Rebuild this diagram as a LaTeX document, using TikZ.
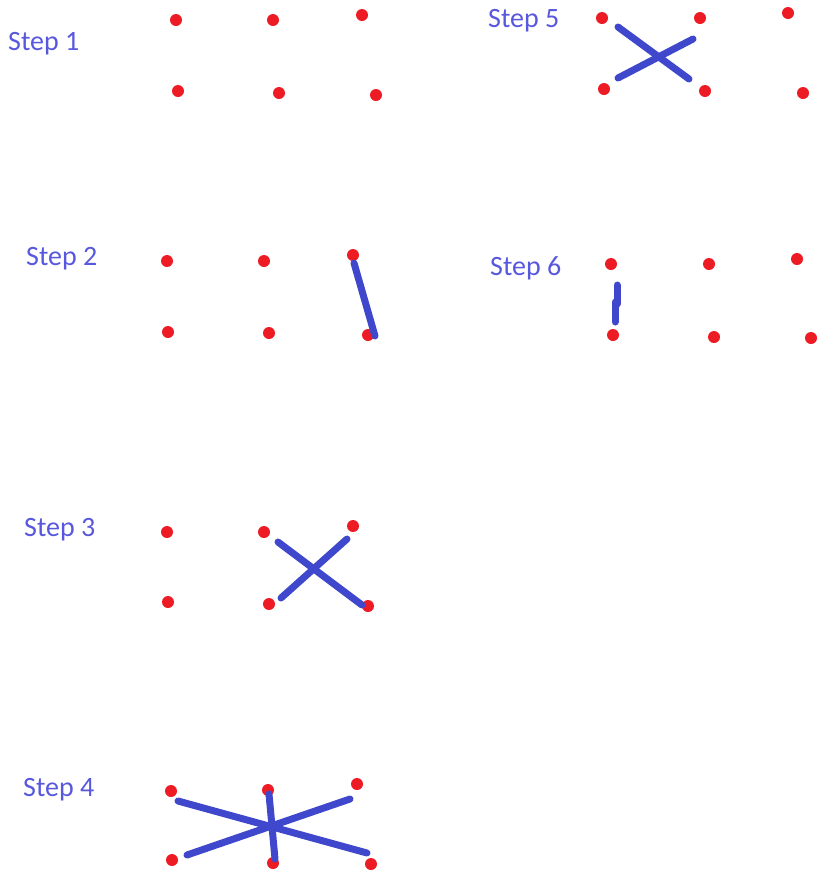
\documentclass[tikz,border=0pt]{standalone}
\usepackage{fontspec}
\setmainfont{Carlito}
\definecolor{dotred}{RGB}{237,28,36}
\definecolor{penblue}{RGB}{63,72,204}
\definecolor{labelblue}{RGB}{88,88,222}
\begin{document}
\begin{tikzpicture}[x=1pt,y=-1pt,
  dot/.style={circle,fill=dotred,inner sep=0pt,minimum size=12pt},
  steplabel/.style={anchor=base west,inner sep=0pt,text=labelblue,font=\fontsize{28}{28}\selectfont},
  stroke/.style={draw=penblue,line width=7pt,line cap=round}]
\useasboundingbox (0,0) rectangle (817,871);
% Step 1
\node[steplabel] (l1) at (8,50) {Step 1};
\node[dot] (a1) at (176,20) {};
\node[dot] (a2) at (273,20) {};
\node[dot] (a3) at (362,15) {};
\node[dot] (a4) at (178,91) {};
\node[dot] (a5) at (279,93) {};
\node[dot] (a6) at (376,95) {};
% Step 5
\node[steplabel] (l5) at (488,27) {Step 5};
\node[dot] (e1) at (602,18) {};
\node[dot] (e2) at (700,18) {};
\node[dot] (e3) at (788,13) {};
\node[dot] (e4) at (604,89) {};
\node[dot] (e5) at (705,91) {};
\node[dot] (e6) at (803,93) {};
\coordinate (e7) at (618,27);
\coordinate (e8) at (689,79);
\coordinate (e9) at (618,78);
\coordinate (e10) at (693,39);
\draw[stroke] (e7) -- (e8);
\draw[stroke] (e9) -- (e10);
% Step 2
\node[steplabel] (l2) at (26,265) {Step 2};
\node[dot] (b1) at (167,261) {};
\node[dot] (b2) at (264,261) {};
\node[dot] (b3) at (353,255) {};
\node[dot] (b4) at (168,332) {};
\node[dot] (b5) at (269,333) {};
\node[dot] (b6) at (368,335) {};
\coordinate (b7) at (354,263);
\coordinate (b8) at (375,336);
\draw[stroke] (b7) -- (b8);
% Step 6
\node[steplabel] (l6) at (490,275) {Step 6};
\node[dot] (f1) at (611,264) {};
\node[dot] (f2) at (709,264) {};
\node[dot] (f3) at (797,259) {};
\node[dot] (f4) at (613,335) {};
\node[dot] (f5) at (714,337) {};
\node[dot] (f6) at (811,338) {};
\coordinate (f7) at (617,285);
\coordinate (f8) at (617,304);
\coordinate (f9) at (615,302);
\coordinate (f10) at (615,322);
\draw[stroke] (f7) -- (f8);
\draw[stroke] (f9) -- (f10);
% Step 3
\node[steplabel] (l3) at (24,536) {Step 3};
\node[dot] (c1) at (167,532) {};
\node[dot] (c2) at (264,532) {};
\node[dot] (c3) at (353,526) {};
\node[dot] (c4) at (168,602) {};
\node[dot] (c5) at (269,604) {};
\node[dot] (c6) at (368,606) {};
\coordinate (c7) at (278,542);
\coordinate (c8) at (362,605);
\coordinate (c9) at (281,598);
\coordinate (c10) at (347,539);
\draw[stroke] (c7) -- (c8);
\draw[stroke] (c9) -- (c10);
% Step 4
\node[steplabel] (l4) at (23,796) {Step 4};
\node[dot] (d1) at (171,791) {};
\node[dot] (d2) at (268,790) {};
\node[dot] (d3) at (357,784) {};
\node[dot] (d4) at (172,860) {};
\node[dot] (d5) at (273,863) {};
\node[dot] (d6) at (371,864) {};
\coordinate (d7) at (178,801);
\coordinate (d8) at (367,853);
\coordinate (d9) at (187,855);
\coordinate (d10) at (350,799);
\coordinate (d11) at (269,794);
\coordinate (d12) at (275,859);
\draw[stroke] (d7) -- (d8);
\draw[stroke] (d9) -- (d10);
\draw[stroke] (d11) -- (d12);
\end{tikzpicture}
\end{document}
